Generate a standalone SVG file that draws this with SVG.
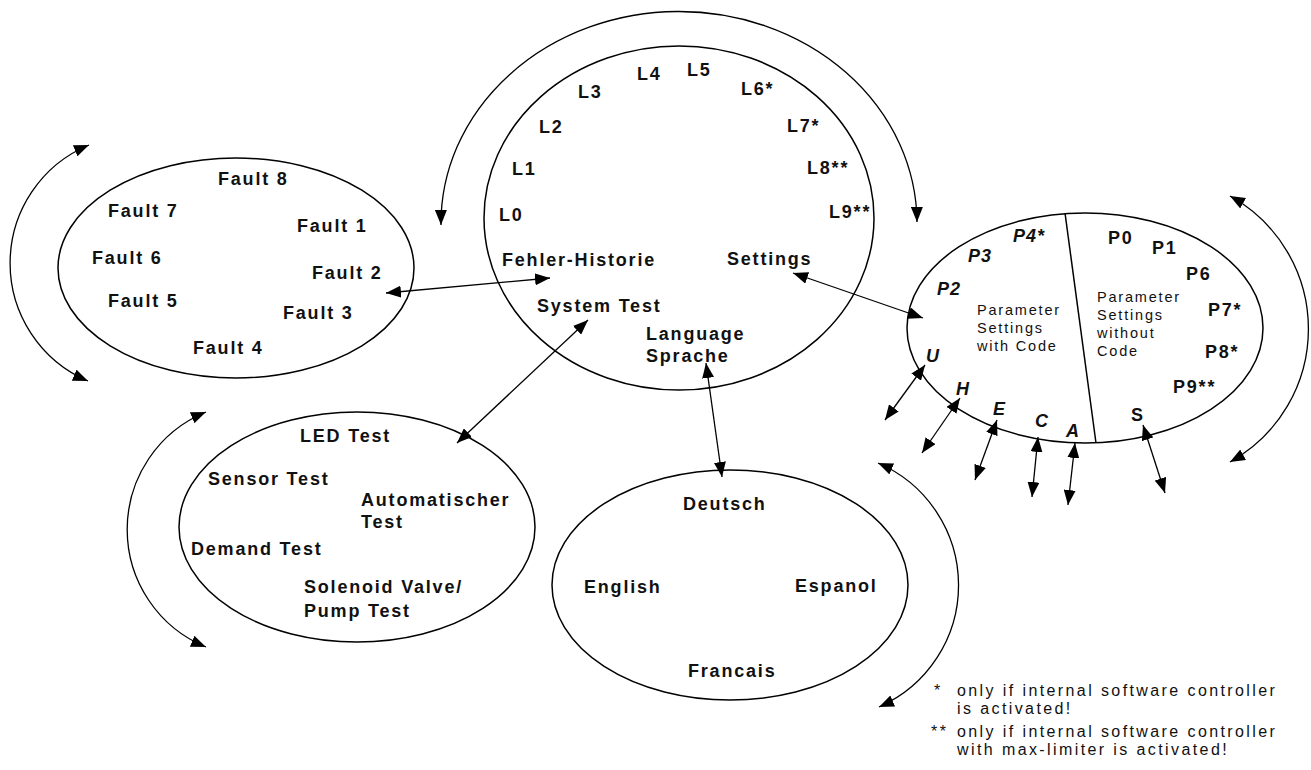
<svg xmlns="http://www.w3.org/2000/svg" width="1311" height="770" viewBox="0 0 1311 770">
<style>
.b{font-family:"Liberation Sans",Arial,sans-serif;font-weight:bold;font-size:18px;letter-spacing:1.8px;fill:#111}
.bi{font-family:"Liberation Sans",Arial,sans-serif;font-weight:bold;font-style:italic;font-size:18px;letter-spacing:1px;fill:#111}
.r{font-family:"Liberation Sans",Arial,sans-serif;font-size:14.5px;letter-spacing:1.8px;fill:#111}
.n{font-family:"Liberation Sans",Arial,sans-serif;font-size:16px;letter-spacing:2.4px;fill:#111}
.e{fill:none;stroke:#000;stroke-width:1.5}
.c{fill:none;stroke:#000;stroke-width:1.3;marker-start:url(#ah);marker-end:url(#ah)}
</style>
<defs>
<marker id="ah" markerUnits="userSpaceOnUse" markerWidth="16" markerHeight="12" refX="15" refY="6" orient="auto-start-reverse">
<path d="M0,0 L15,6 L0,12 z" fill="#000"/>
</marker>
</defs>
<rect width="1311" height="770" fill="#fff"/>

<g id="main">
<ellipse class="e" cx="679" cy="218" rx="195" ry="172"/>
<text class="b" x="637" y="80">L4</text>
<text class="b" x="687" y="76">L5</text>
<text class="b" x="578" y="98">L3</text>
<text class="b" x="741" y="95">L6*</text>
<text class="b" x="539" y="133">L2</text>
<text class="b" x="787" y="132">L7*</text>
<text class="b" x="512" y="175">L1</text>
<text class="b" x="807" y="174">L8**</text>
<text class="b" x="499" y="221">L0</text>
<text class="b" x="829" y="218">L9**</text>
<text class="b" x="502" y="266">Fehler-Historie</text>
<text class="b" x="727" y="265">Settings</text>
<text class="b" x="537" y="312">System Test</text>
<text class="b" x="646" y="340">Language</text>
<text class="b" x="646" y="362">Sprache</text>
</g>

<g id="faults">
<ellipse class="e" cx="236" cy="268" rx="178" ry="110"/>
<text class="b" x="218" y="185">Fault 8</text>
<text class="b" x="108" y="217">Fault 7</text>
<text class="b" x="297" y="232">Fault 1</text>
<text class="b" x="92" y="264">Fault 6</text>
<text class="b" x="312" y="279">Fault 2</text>
<text class="b" x="108" y="307">Fault 5</text>
<text class="b" x="283" y="319">Fault 3</text>
<text class="b" x="193" y="354">Fault 4</text>
</g>

<g id="parameters">
<ellipse class="e" cx="1085" cy="328" rx="178" ry="115"/>
<line x1="1065" y1="213" x2="1096" y2="443" stroke="#000" stroke-width="1.5"/>
<text class="bi" x="1013" y="242">P4*</text>
<text class="bi" x="968" y="262">P3</text>
<text class="bi" x="937" y="295">P2</text>
<text class="b" x="1108" y="244">P0</text>
<text class="b" x="1152" y="254">P1</text>
<text class="b" x="1186" y="280">P6</text>
<text class="b" x="1208" y="316">P7*</text>
<text class="b" x="1205" y="358">P8*</text>
<text class="b" x="1173" y="393">P9**</text>
<text class="bi" x="926" y="362">U</text>
<text class="bi" x="956" y="395">H</text>
<text class="bi" x="993" y="415">E</text>
<text class="bi" x="1035" y="427">C</text>
<text class="bi" x="1066" y="437">A</text>
<text class="b" x="1131" y="421">S</text>
<text class="r" x="977" y="315">Parameter</text>
<text class="r" x="977" y="333">Settings</text>
<text class="r" x="977" y="351">with Code</text>
<text class="r" x="1097" y="302">Parameter</text>
<text class="r" x="1097" y="320">Settings</text>
<text class="r" x="1097" y="338">without</text>
<text class="r" x="1097" y="356">Code</text>
</g>

<g id="systemtest">
<ellipse class="e" cx="357" cy="527" rx="178" ry="115"/>
<text class="b" x="300" y="442">LED Test</text>
<text class="b" x="208" y="485">Sensor Test</text>
<text class="b" x="361" y="506">Automatischer</text>
<text class="b" x="361" y="528">Test</text>
<text class="b" x="191" y="555">Demand Test</text>
<text class="b" x="304" y="593">Solenoid Valve/</text>
<text class="b" x="304" y="617">Pump Test</text>
</g>

<g id="language">
<ellipse class="e" cx="730" cy="585" rx="178" ry="115"/>
<text class="b" x="683" y="510">Deutsch</text>
<text class="b" x="584" y="593">English</text>
<text class="b" x="795" y="592">Espanol</text>
<text class="b" x="688" y="677">Francais</text>
</g>

<g id="footnotes">
<text class="n" x="934" y="696">*</text>
<text class="n" x="957" y="696">only if internal software controller</text>
<text class="n" x="957" y="714">is activated!</text>
<text class="n" x="931" y="737">**</text>
<text class="n" x="957" y="737">only if internal software controller</text>
<text class="n" x="957" y="755">with max-limiter is activated!</text>
</g>

<g id="connectors">
<path class="c" d="M441 225 A238 212 0 0 1 917 222"/>
<path class="c" d="M89 145 A128 128 0 0 0 88 381"/>
<path class="c" d="M206 412 A127 127 0 0 0 206 647"/>
<path class="c" d="M878 463 A133 133 0 0 1 879 707"/>
<path class="c" d="M1230 196 A152 152 0 0 1 1230 462"/>
<line class="c" x1="386" y1="293" x2="550" y2="278"/>
<line class="c" x1="588" y1="320" x2="457" y2="443"/>
<line class="c" x1="706" y1="363" x2="722" y2="477"/>
<line class="c" x1="793" y1="273" x2="923" y2="318"/>
<line class="c" x1="925" y1="365" x2="885" y2="420"/>
<line class="c" x1="960" y1="398" x2="922" y2="453"/>
<line class="c" x1="997" y1="420" x2="975" y2="480"/>
<line class="c" x1="1038" y1="437" x2="1032" y2="497"/>
<line class="c" x1="1075" y1="443" x2="1068" y2="505"/>
<line class="c" x1="1143" y1="425" x2="1165" y2="493"/>
</g>
</svg>
